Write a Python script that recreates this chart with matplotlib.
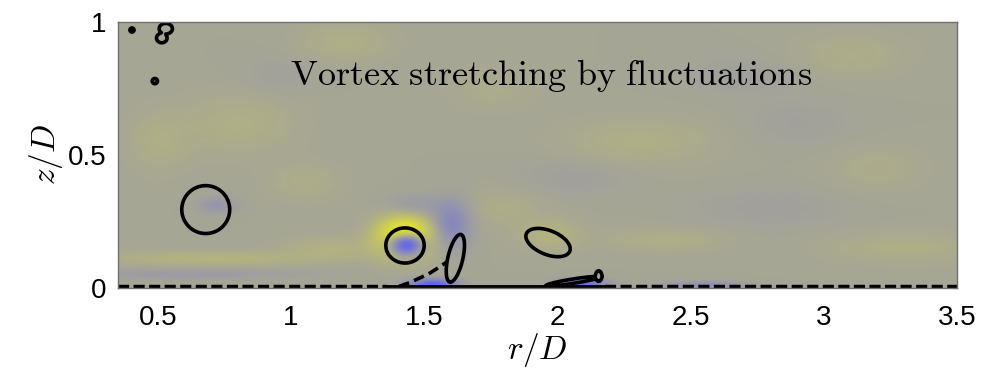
import numpy as np
import matplotlib.pyplot as plt
from matplotlib.colors import LinearSegmentedColormap

# stretching field: blobs (r, z, width r, width z, amplitude)
s_r   = [1.425, 1.43, 1.60, 1.46, 1.53, 2.09, 2.55, 0.72, 1.97, 0.80, 2.30, 3.10, 1.20, 2.80, 0.70, 0.60, 1.05, 2.90, 3.30, 1.75, 0.95, 2.40, 1.15, 2.05, 3.20, 0.50, 1.80, 2.70]
s_z   = [0.19, 0.165, 0.24, 0.31, 0.010, 0.010, 0.008, 0.31, 0.20, 0.62, 0.55, 0.88, 0.93, 0.30, 0.11, 0.05, 0.40, 0.62, 0.15, 0.75, 0.80, 0.18, 0.15, 0.42, 0.45, 0.55, 0.30, 0.80]
s_wr  = [0.07, 0.045, 0.05, 0.07, 0.06, 0.06, 0.10, 0.05, 0.08, 0.15, 0.20, 0.15, 0.12, 0.20, 0.30, 0.30, 0.10, 0.15, 0.20, 0.12, 0.10, 0.15, 0.12, 0.15, 0.12, 0.08, 0.10, 0.15]
s_wz  = [0.05, 0.03, 0.06, 0.03, 0.015, 0.015, 0.010, 0.02, 0.04, 0.08, 0.06, 0.06, 0.05, 0.05, 0.02, 0.015, 0.05, 0.06, 0.04, 0.06, 0.05, 0.03, 0.03, 0.05, 0.06, 0.08, 0.05, 0.05]
s_amp = [1.15, -1.75, -0.40, -0.15, -0.85, -0.75, -0.30, -0.20, 0.15, 0.10, 0.10, 0.08, 0.10, -0.06, 0.15, -0.12, 0.08, -0.05, 0.10, 0.06, -0.05, 0.10, 0.12, -0.06, 0.07, 0.09, 0.08, -0.06]

# vortex cores: (r, z, radius r, radius z, angle deg)
c_r   = [0.680, 1.428, 1.965, 1.617, 0.530, 0.515, 0.403, 0.489, 2.060, 2.155]
c_z   = [0.295, 0.160, 0.171, 0.112, 0.975, 0.940, 0.970, 0.778, 0.026, 0.045]
c_rr  = [0.090, 0.072, 0.088, 0.092, 0.025, 0.020, 0.008, 0.010, 0.105, 0.012]
c_rz  = [0.090, 0.066, 0.045, 0.028, 0.020, 0.018, 0.008, 0.010, 0.008, 0.020]
c_ang = [0, 0, -22, 77, 0, 0, 0, 0, 9, 0]

# dashed tongue left of the filament
tongue_r = [1.405, 1.445, 1.484, 1.515, 1.540, 1.565, 1.585]
tongue_z = [0.006, 0.020, 0.038, 0.052, 0.068, 0.084, 0.098]

# wall segments: (start, end, dashed)
wall_start = [0.35, 1.36, 2.18]
wall_end   = [1.36, 2.18, 3.50]
wall_dash  = [True, False, True]

r = np.linspace(0.35, 3.5, 631)
z = np.linspace(0.0, 1.0, 201)
R, Z = np.meshgrid(r, z)

S = np.zeros_like(R)
for i in range(len(s_r)):
    S += s_amp[i] * np.exp(-0.5 * (((R - s_r[i]) / s_wr[i])**2 + ((Z - s_z[i]) / s_wz[i])**2))

Q = np.zeros_like(R)
for i in range(len(c_r)):
    a = np.deg2rad(c_ang[i])
    dr = R - c_r[i]
    dz = Z - c_z[i]
    u = dr * np.cos(a) + dz * np.sin(a)
    v = -dr * np.sin(a) + dz * np.cos(a)
    Q = np.maximum(Q, np.exp(-np.log(2) * ((u / c_rr[i])**2 + (v / c_rz[i])**2)))

cmap = LinearSegmentedColormap.from_list('bgy', [(0.33, 0.33, 1.0), (0.65, 0.65, 0.59), (1.0, 1.0, 0.0)])

plt.rcParams['mathtext.fontset'] = 'cm'
fig = plt.figure(figsize=(9.82, 3.80), dpi=100)
ax = fig.add_axes([0.120, 0.242, 0.8545, 0.700])

ax.imshow(S, extent=[r[0], r[-1], z[0], z[-1]], origin='lower', cmap=cmap,
          vmin=-1, vmax=1, aspect='auto', interpolation='bilinear')
ax.contour(R, Z, Q, levels=[0.5], colors='k', linewidths=2.6)
ax.plot(tongue_r, tongue_z, color='k', lw=2.6, dashes=(3, 1.5))

for i in range(len(wall_start)):
    if wall_dash[i]:
        ax.plot([wall_start[i], wall_end[i]], [0.004, 0.004], color='k', lw=3.2, dashes=(2.5, 1.0))
    else:
        ax.plot([wall_start[i], wall_end[i]], [0.004, 0.004], color='k', lw=3.5)

ax.text(0.995, 0.765, r'$\mathrm{Vortex\ stretching\ by\ fluctuations}$', fontsize=26, color='k')

ax.set_xlim(0.35, 3.5)
ax.set_ylim(0, 1)
ax.set_xticks([0.5, 1, 1.5, 2, 2.5, 3, 3.5])
ax.set_xticklabels(['0.5', '1', '1.5', '2', '2.5', '3', '3.5'])
ax.set_yticks([0, 0.5, 1])
ax.set_yticklabels(['0', '0.5', '1'])
for lab in ax.get_xticklabels() + ax.get_yticklabels():
    lab.set_family('Liberation Sans')
    lab.set_fontsize(20)
ax.tick_params(axis='x', length=0, pad=12)
ax.tick_params(axis='y', length=0, pad=8)
for sp in ax.spines.values():
    sp.set_color('#707070')
    sp.set_linewidth(1.0)

ax.set_xlabel(r'$r/D$', fontsize=24, labelpad=0)
ax.set_ylabel(r'$z/D$', fontsize=24, labelpad=2)

fig.savefig('out.png', dpi=100)
